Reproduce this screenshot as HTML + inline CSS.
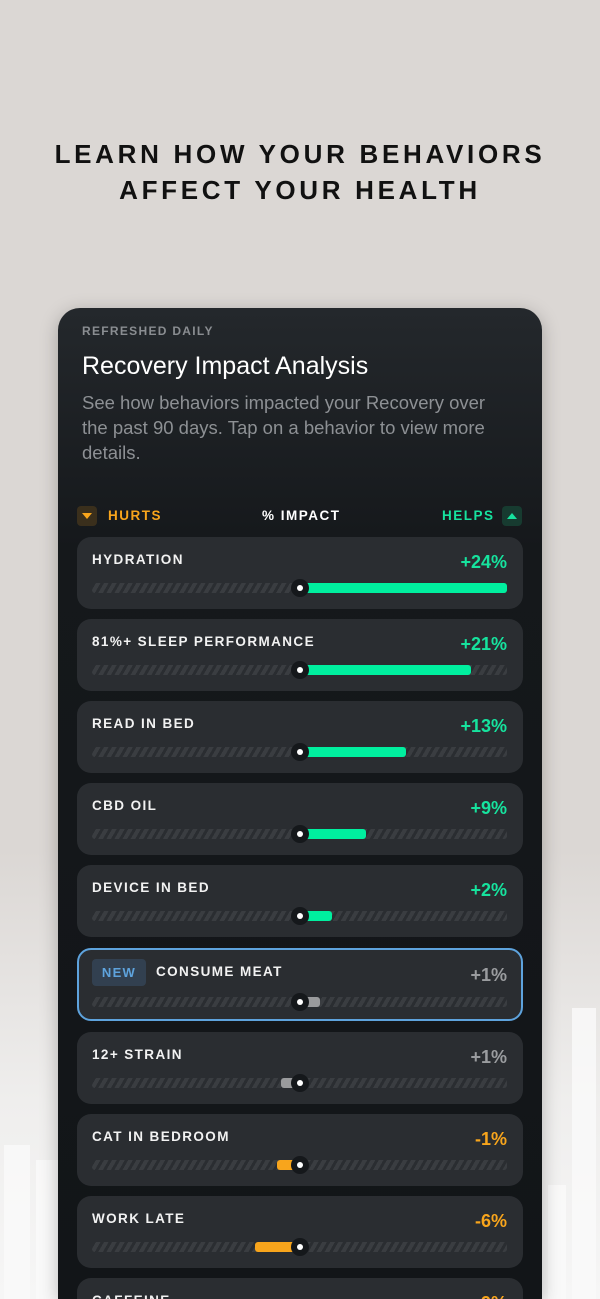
<!DOCTYPE html>
<html style="width:600px;height:1299px;overflow:hidden"><head><meta charset="utf-8"><style>
*{margin:0;padding:0;box-sizing:border-box}
body{width:600px;height:1299px;overflow:hidden;position:relative;font-family:"Liberation Sans",sans-serif;background:linear-gradient(#dbd7d4 0,#dbd7d4 850px,#efeeed 1100px,#f6f6f6 1299px)}
.wb{position:absolute;background:#fafafa;opacity:.8}
h1{position:absolute;top:136px;left:0;width:600px;text-align:center;font-size:26px;line-height:36px;letter-spacing:3.7px;font-weight:bold;color:#111}
.card{position:absolute;left:58px;top:308px;width:484px;height:991px;border-radius:22px 22px 0 0;background:linear-gradient(#24282c 0,#15181b 240px,#121518 100%);box-shadow:0 4px 18px rgba(0,0,0,.25)}
.t{position:absolute;color:#fff}
.row{position:absolute;left:77px;width:446px;height:72px;border-radius:14px;background:#2a2d31;overflow:hidden}
.row .n{position:absolute;left:15px;top:15px;color:#f2f2f2;font-weight:bold;font-size:13.5px;letter-spacing:1.4px}
.row .v{position:absolute;right:16px;top:15px;font-weight:bold;font-size:18px}
.track{position:absolute;left:15px;top:46px;width:415px;height:10px;border-radius:3px;background:repeating-linear-gradient(-60deg,#3a3d41 0 4px,#2a2d31 4px 7px)}
.bar{position:absolute;top:46px;height:10px;border-radius:3px}
.dot{position:absolute;left:214px;top:42px;width:18px;height:18px;border-radius:50%;background:#15181b}
.dot:after{content:"";position:absolute;left:6px;top:6px;width:6px;height:6px;border-radius:50%;background:#fff}
</style></head><body>
<div class="wb" style="left:4px;top:1145px;width:26px;height:154px"></div>
<div class="wb" style="left:36px;top:1160px;width:24px;height:139px"></div>
<div class="wb" style="left:548px;top:1185px;width:18px;height:114px"></div>
<div class="wb" style="left:572px;top:1008px;width:24px;height:291px"></div>
<h1>LEARN HOW YOUR BEHAVIORS<br>AFFECT YOUR HEALTH</h1>
<div class="card"></div>
<div class="t" style="left:82px;top:324px;font-size:12px;font-weight:bold;letter-spacing:1.3px;color:#8a8d91">REFRESHED DAILY</div>
<div class="t" style="left:82px;top:352px;font-size:25px">Recovery Impact Analysis</div>
<div class="t" style="left:82px;top:390px;width:440px;font-size:18.5px;line-height:25px;color:#8d9094">See how behaviors impacted your Recovery over<br>the past 90 days. Tap on a behavior to view more<br>details.</div>
<div style="position:absolute;left:77px;top:506px;width:20px;height:20px;border-radius:4px;background:#3a2f1c"><div style="position:absolute;left:5px;top:7px;border-left:5px solid transparent;border-right:5px solid transparent;border-top:6px solid #f8a51c"></div></div>
<div class="t" style="left:108px;top:508px;font-size:13.5px;font-weight:bold;letter-spacing:1.5px;color:#f8a51c">HURTS</div>
<div class="t" style="left:262px;top:508px;font-size:13.5px;font-weight:bold;letter-spacing:1.5px">% IMPACT</div>
<div class="t" style="left:442px;top:508px;font-size:13.5px;font-weight:bold;letter-spacing:1.5px;color:#16e39e">HELPS</div>
<div style="position:absolute;left:502px;top:506px;width:20px;height:20px;border-radius:4px;background:#173b30"><div style="position:absolute;left:5px;top:7px;border-left:5px solid transparent;border-right:5px solid transparent;border-bottom:6px solid #16e39e"></div></div>

<div class="row" style="top:537px"><div class="n">HYDRATION</div><div class="v" style="color:#16e39e">+24%</div><div class="track"></div><div class="bar" style="left:223px;width:207px;background:#00ef9f"></div><div class="dot"></div></div>
<div class="row" style="top:619px"><div class="n">81%+ SLEEP PERFORMANCE</div><div class="v" style="color:#16e39e">+21%</div><div class="track"></div><div class="bar" style="left:223px;width:171px;background:#00ef9f"></div><div class="dot"></div></div>
<div class="row" style="top:701px"><div class="n">READ IN BED</div><div class="v" style="color:#16e39e">+13%</div><div class="track"></div><div class="bar" style="left:223px;width:106px;background:#00ef9f"></div><div class="dot"></div></div>
<div class="row" style="top:783px"><div class="n">CBD OIL</div><div class="v" style="color:#16e39e">+9%</div><div class="track"></div><div class="bar" style="left:223px;width:66px;background:#00ef9f"></div><div class="dot"></div></div>
<div class="row" style="top:865px"><div class="n">DEVICE IN BED</div><div class="v" style="color:#16e39e">+2%</div><div class="track"></div><div class="bar" style="left:223px;width:32px;background:#00ef9f"></div><div class="dot"></div></div>
<div class="row" style="top:948px;height:73px;border:2px solid #5ea3dd"><div style="position:absolute;left:13px;top:9px;width:54px;height:27px;border-radius:4px;background:#324050;color:#5ea3dd;font-weight:bold;font-size:13px;letter-spacing:1.3px;text-align:center;line-height:27px">NEW</div><div class="n" style="left:77px;top:14px">CONSUME MEAT</div><div class="v" style="color:#9a9c9f;top:15px;right:14px">+1%</div><div class="track" style="left:13px;top:47px"></div><div class="bar" style="left:221px;top:47px;width:20px;background:#9a9b9d"></div><div class="dot" style="left:212px;top:43px"></div></div>
<div class="row" style="top:1032px"><div class="n">12+ STRAIN</div><div class="v" style="color:#9a9c9f">+1%</div><div class="track"></div><div class="bar" style="left:204px;width:20px;background:#9a9b9d"></div><div class="dot"></div></div>
<div class="row" style="top:1114px"><div class="n">CAT IN BEDROOM</div><div class="v" style="color:#f8a51c">-1%</div><div class="track"></div><div class="bar" style="left:200px;width:24px;background:#f8a51c"></div><div class="dot"></div></div>
<div class="row" style="top:1196px"><div class="n">WORK LATE</div><div class="v" style="color:#f8a51c">-6%</div><div class="track"></div><div class="bar" style="left:178px;width:46px;background:#f8a51c"></div><div class="dot"></div></div>
<div class="row" style="top:1278px;height:21px;border-radius:14px 14px 0 0"><div class="n">CAFFEINE</div><div class="v" style="color:#f8a51c">-9%</div></div>
</body></html>
